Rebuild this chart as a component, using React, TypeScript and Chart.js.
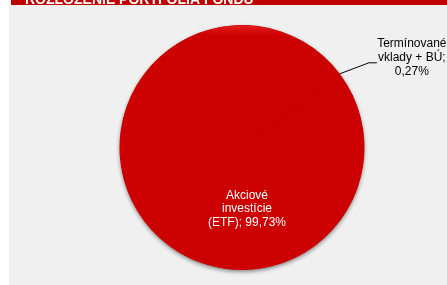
import React, { useEffect, useRef } from "react";
import { Chart, registerables } from "chart.js";
Chart.register(...registerables);

const title = "ROZLOŽENIE PORTFÓLIA FONDU";
const categories = [["Akciové", "investície", "(ETF); 99,73%"], ["Termínované", "vklady + BÚ;", "0,27%"]];
const values = [99.73, 0.27];
const colors = ["#CC0000", "#CC0000"];

const bgPlugin = {
  id: "bg",
  beforeDraw(chart: any) {
    const ctx = chart.ctx;
    ctx.save();
    ctx.fillStyle = "#FFFFFF";
    ctx.fillRect(0, 0, chart.width, chart.height);
    ctx.fillStyle = "#F0F0F0";
    ctx.fillRect(9, 5, chart.width - 9, chart.height - 5);
    ctx.fillStyle = "#C00000";
    ctx.fillRect(11, 0, chart.width - 11, 5);
    ctx.fillStyle = "#FFFFFF";
    ctx.font = "bold 14px 'Liberation Sans', Arial, sans-serif";
    ctx.textBaseline = "alphabetic";
    ctx.fillText(title, 25, 4);
    ctx.restore();
  },
  beforeDatasetsDraw(chart: any) {
    const ctx = chart.ctx;
    const a0 = chart.getDatasetMeta(0).data[0];
    if (!a0) return;
    ctx.save();
    ctx.shadowColor = "rgba(0,0,0,0.5)";
    ctx.shadowBlur = 4;
    ctx.shadowOffsetY = 2;
    ctx.fillStyle = "#B00000";
    ctx.beginPath();
    ctx.arc(a0.x, a0.y, a0.outerRadius - 0.5, 0, Math.PI * 2);
    ctx.fill();
    ctx.restore();
  },
  afterDatasetsDraw(chart: any) {
    const ctx = chart.ctx;
    const meta = chart.getDatasetMeta(0);
    const a0 = meta.data[0];
    const a1 = meta.data[1];
    const cx = a0.x, cy = a0.y, r = a0.outerRadius;
    ctx.save();
    const g = ctx.createLinearGradient(0, cy - r, 0, cy - r + 10);
    g.addColorStop(0, "rgba(255,60,60,0.5)");
    g.addColorStop(1, "rgba(255,60,60,0)");
    ctx.beginPath();
    ctx.arc(cx, cy, r - 0.5, 0, Math.PI * 2);
    ctx.clip();
    ctx.fillStyle = g;
    ctx.fillRect(cx - r, cy - r, 2 * r, 12);
    ctx.restore();

    ctx.save();
    ctx.font = "12px 'Liberation Sans', Arial, sans-serif";
    ctx.textAlign = "center";
    ctx.textBaseline = "middle";
    ctx.fillStyle = "#FFFFFF";
    const l0 = categories[0];
    l0.forEach((t, i) => ctx.fillText(t, cx + 5, cy + 48 + i * 13.5));
    const mid = (a1.startAngle + a1.endAngle) / 2;
    const px = cx + Math.cos(mid) * r;
    const py = cy + Math.sin(mid) * r;
    ctx.strokeStyle = "#000000";
    ctx.lineWidth = 1;
    ctx.beginPath();
    ctx.moveTo(px, py);
    ctx.lineTo(px + 29, py - 11);
    ctx.lineTo(px + 37, py - 11);
    ctx.stroke();
    ctx.fillStyle = "#000000";
    const l1 = categories[1];
    l1.forEach((t, i) => ctx.fillText(t, px + 72, py - 30 + i * 14));
    ctx.restore();
  },
};

export default function App() {
  const ref = useRef<HTMLCanvasElement>(null);
  useEffect(() => {
    document.body.style.margin = "0";
    const chart = new Chart(ref.current!, {
      type: "pie",
      data: {
        labels: categories.map((c) => c.join(" ")),
        datasets: [{ data: values, backgroundColor: colors, borderWidth: 0 }],
      },
      options: {
        animation: false,
        responsive: false,
        rotation: 53.5,
        layout: { padding: { top: 25, bottom: 15, left: 60, right: 23 } },
        plugins: { legend: { display: false }, tooltip: { enabled: false } },
      },
      plugins: [bgPlugin],
    });
    return () => chart.destroy();
  }, []);
  return (
    <div style={{ position: "absolute", left: 0, top: 0 }}>
      <canvas ref={ref} width={447} height={285} style={{ display: "block", width: 447, height: 285 }} />
    </div>
  );
}
